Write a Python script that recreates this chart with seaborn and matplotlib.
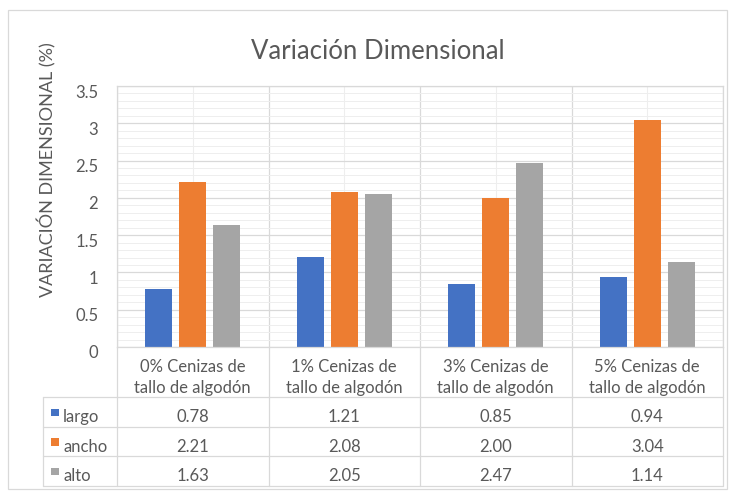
import matplotlib
matplotlib.use("Agg")
import matplotlib.pyplot as plt
from matplotlib.lines import Line2D
from matplotlib.patches import Rectangle
from matplotlib.transforms import ScaledTranslation
from matplotlib.ticker import MultipleLocator, FixedLocator
import seaborn as sns
import pandas as pd

# --- data -----------------------------------------------------------------
grupos = ["0% Cenizas de\ntallo de algodón", "1% Cenizas de\ntallo de algodón",
          "3% Cenizas de\ntallo de algodón", "5% Cenizas de\ntallo de algodón"]
series = ["largo", "ancho", "alto"]
largo = [0.78, 1.21, 0.85, 0.94]
ancho = [2.21, 2.08, 2.00, 3.04]
alto = [1.63, 2.05, 2.47, 1.14]
colores = ["#4472C4", "#ED7D31", "#A5A5A5"]
yticks = [0, 0.5, 1, 1.5, 2, 2.5, 3, 3.5]
ytick_labels = ["0", "0.5", "1", "1.5", "2", "2.5", "3", "3.5"]

valores = {"largo": largo, "ancho": ancho, "alto": alto}
df = pd.DataFrame({
    "grupo": [g for s in series for g in grupos],
    "serie": [s for s in series for _ in grupos],
    "valor": [v for s in series for v in valores[s]],
})

# --- figure ---------------------------------------------------------------
sns.set_theme(style="white")
plt.rcParams["font.family"] = ["Lato", "DejaVu Sans"]
TXT = "#595959"
GRID = "#D9D9D9"
GRID_MINOR = "#EEEEEE"

W, H = 734, 492
fig = plt.figure(figsize=(W / 100, H / 100), dpi=100)
fig.patch.set_facecolor("white")


def fx(px):
    return px / W


def fy(py):
    return 1 - py / H


L, R, T, B = 117, 723, 86, 347
ax = fig.add_axes([fx(L), fy(B), fx(R - L), (B - T) / H])

sns.barplot(data=df, x="grupo", y="valor", hue="serie", hue_order=series,
            palette=colores, saturation=1, width=0.675, gap=0.2,
            linewidth=0, legend=False, errorbar=None, ax=ax)

ax.set_xlim(-0.5, len(grupos) - 0.5)
ax.set_ylim(0, 3.5)
ax.set_xlabel("")
ax.set_ylabel("")

# grid: major/minor horizontals, category boundaries and centres vertically
ax.yaxis.set_major_locator(FixedLocator(yticks))
ax.yaxis.set_minor_locator(MultipleLocator(0.1))
ax.xaxis.set_major_locator(FixedLocator(range(len(grupos))))
ax.xaxis.set_minor_locator(FixedLocator([i - 0.5 for i in range(len(grupos) + 1)]))
ax.grid(which="major", axis="y", color=GRID, linewidth=0.9)
ax.grid(which="minor", axis="y", color=GRID_MINOR, linewidth=0.7)
ax.grid(which="major", axis="x", color=GRID_MINOR, linewidth=0.8)
ax.grid(which="minor", axis="x", color=GRID, linewidth=0.9)
ax.set_axisbelow(True)
for s in ax.spines.values():
    s.set_color(GRID)
    s.set_linewidth(0.9)

ax.tick_params(which="both", length=0)
ax.set_xticklabels([])
ax.set_yticklabels(ytick_labels, color=TXT, fontsize=12)
ax.tick_params(axis="y", pad=13.5)
for lab in ax.get_yticklabels():
    lab.set_transform(lab.get_transform() + ScaledTranslation(0, -5 / 100, fig.dpi_scale_trans))

# title and axis label
fig.text(fx(378), fy(59), "Variación Dimensional", ha="center", va="baseline",
         fontsize=18.5, color=TXT)
fig.text(fx(47), fy(170), "VARIACIÓN DIMENSIONAL (%)", rotation=90,
         ha="center", va="center", fontsize=13, color=TXT)

# --- data table below the axis ---------------------------------------------
cols = [117, 268.5, 420, 571.5, 723]
rows = [397, 426.5, 456, 485.5]
TL = 43


def hline(y, x0, x1):
    fig.add_artist(Line2D([fx(x0), fx(x1)], [fy(y), fy(y)], color=GRID, lw=0.9))


def vline(x, y0, y1):
    fig.add_artist(Line2D([fx(x), fx(x)], [fy(y0), fy(y1)], color=GRID, lw=0.9))


for y in rows:
    hline(y, TL, cols[-1])
for x in cols:
    vline(x, B, rows[-1])
vline(TL, rows[0], rows[-1])

for i, g in enumerate(grupos):
    cx = (cols[i] + cols[i + 1]) / 2
    l1, l2 = g.split("\n")
    fig.text(fx(cx), fy(372), l1, ha="center", va="baseline", fontsize=12, color=TXT)
    fig.text(fx(cx), fy(393), l2, ha="center", va="baseline", fontsize=12, color=TXT)

for r, (s, c) in enumerate(zip(series, colores)):
    base = rows[r] + 25
    fig.add_artist(Rectangle((fx(51), fy(rows[r] + 19)), fx(7.5), 7.5 / H,
                             facecolor=c, edgecolor="none"))
    fig.text(fx(63), fy(base), s, ha="left", va="baseline", fontsize=12, color=TXT)
    for i, v in enumerate(valores[s]):
        cx = (cols[i] + cols[i + 1]) / 2
        fig.text(fx(cx), fy(base), f"{v:.2f}", ha="center", va="baseline",
                 fontsize=12, color=TXT)

# chart frame
fig.add_artist(Rectangle((fx(8), fy(489)), fx(719), 479 / H, fill=False,
                         edgecolor=GRID, linewidth=0.9))

fig.savefig("out.png", dpi=100)
